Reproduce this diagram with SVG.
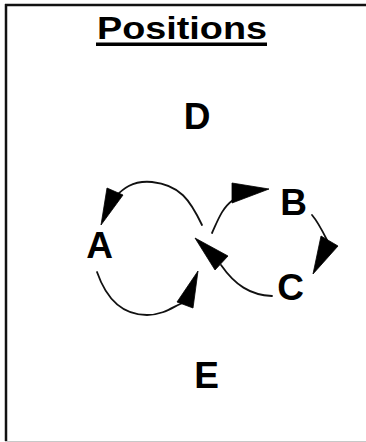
<svg xmlns="http://www.w3.org/2000/svg" width="366" height="442" viewBox="0 0 366 442">
<style>
.lbl{font-family:"Liberation Sans",Arial,sans-serif;font-weight:bold;font-size:37px;text-anchor:middle;fill:#000}
.edge{fill:none;stroke:#111;stroke-width:1.8;stroke-linecap:round}
.head{fill:#000;stroke:#000;stroke-width:0.8;stroke-linejoin:round}
</style>
<rect width="366" height="442" fill="#fff"/>
<g id="frame">
<line x1="5" y1="5" x2="366" y2="5" stroke="#111" stroke-width="2.5"/>
<line x1="6" y1="4" x2="6" y2="441" stroke="#111" stroke-width="2.5"/>
<line x1="5" y1="441.5" x2="366" y2="441.5" stroke="#c8c8c8" stroke-width="1"/>
</g>
<g id="title">
<text x="182" y="39" class="lbl" textLength="170" lengthAdjust="spacingAndGlyphs" style="font-size:31px">Positions</text>
<rect x="96" y="42.5" width="171" height="3.5" fill="#000"/>
</g>
<g id="connectors">
<path class="edge" d="M202,225 C190,200 180,185 152,182 C132,180 122,190 116,196"/>
<polygon class="head" points="101,225 107,188 123,195"/>
<path class="edge" d="M97,272 C105,295 120,315 147,315 C165,315 175,305 185,302"/>
<polygon class="head" points="198,271 177,302 193,308"/>
<path class="edge" d="M212,233 C218,220 222,208 233,200"/>
<polygon class="head" points="269,189 232,183 232,203"/>
<path class="edge" d="M312,215 C318,222 322,230 327,240"/>
<polygon class="head" points="313,274 321,236 338,246"/>
<path class="edge" d="M272,296 C250,295 235,285 221,265"/>
<polygon class="head" points="195,238 215,270 228,256"/>
</g>
<g id="node-D"><text class="lbl" x="197" y="129">D</text></g>
<g id="node-A"><text class="lbl" x="99.5" y="258">A</text></g>
<g id="node-B"><text class="lbl" x="293.5" y="215">B</text></g>
<g id="node-C"><text class="lbl" x="290.5" y="300">C</text></g>
<g id="node-E"><text class="lbl" x="206.5" y="388">E</text></g>
</svg>
